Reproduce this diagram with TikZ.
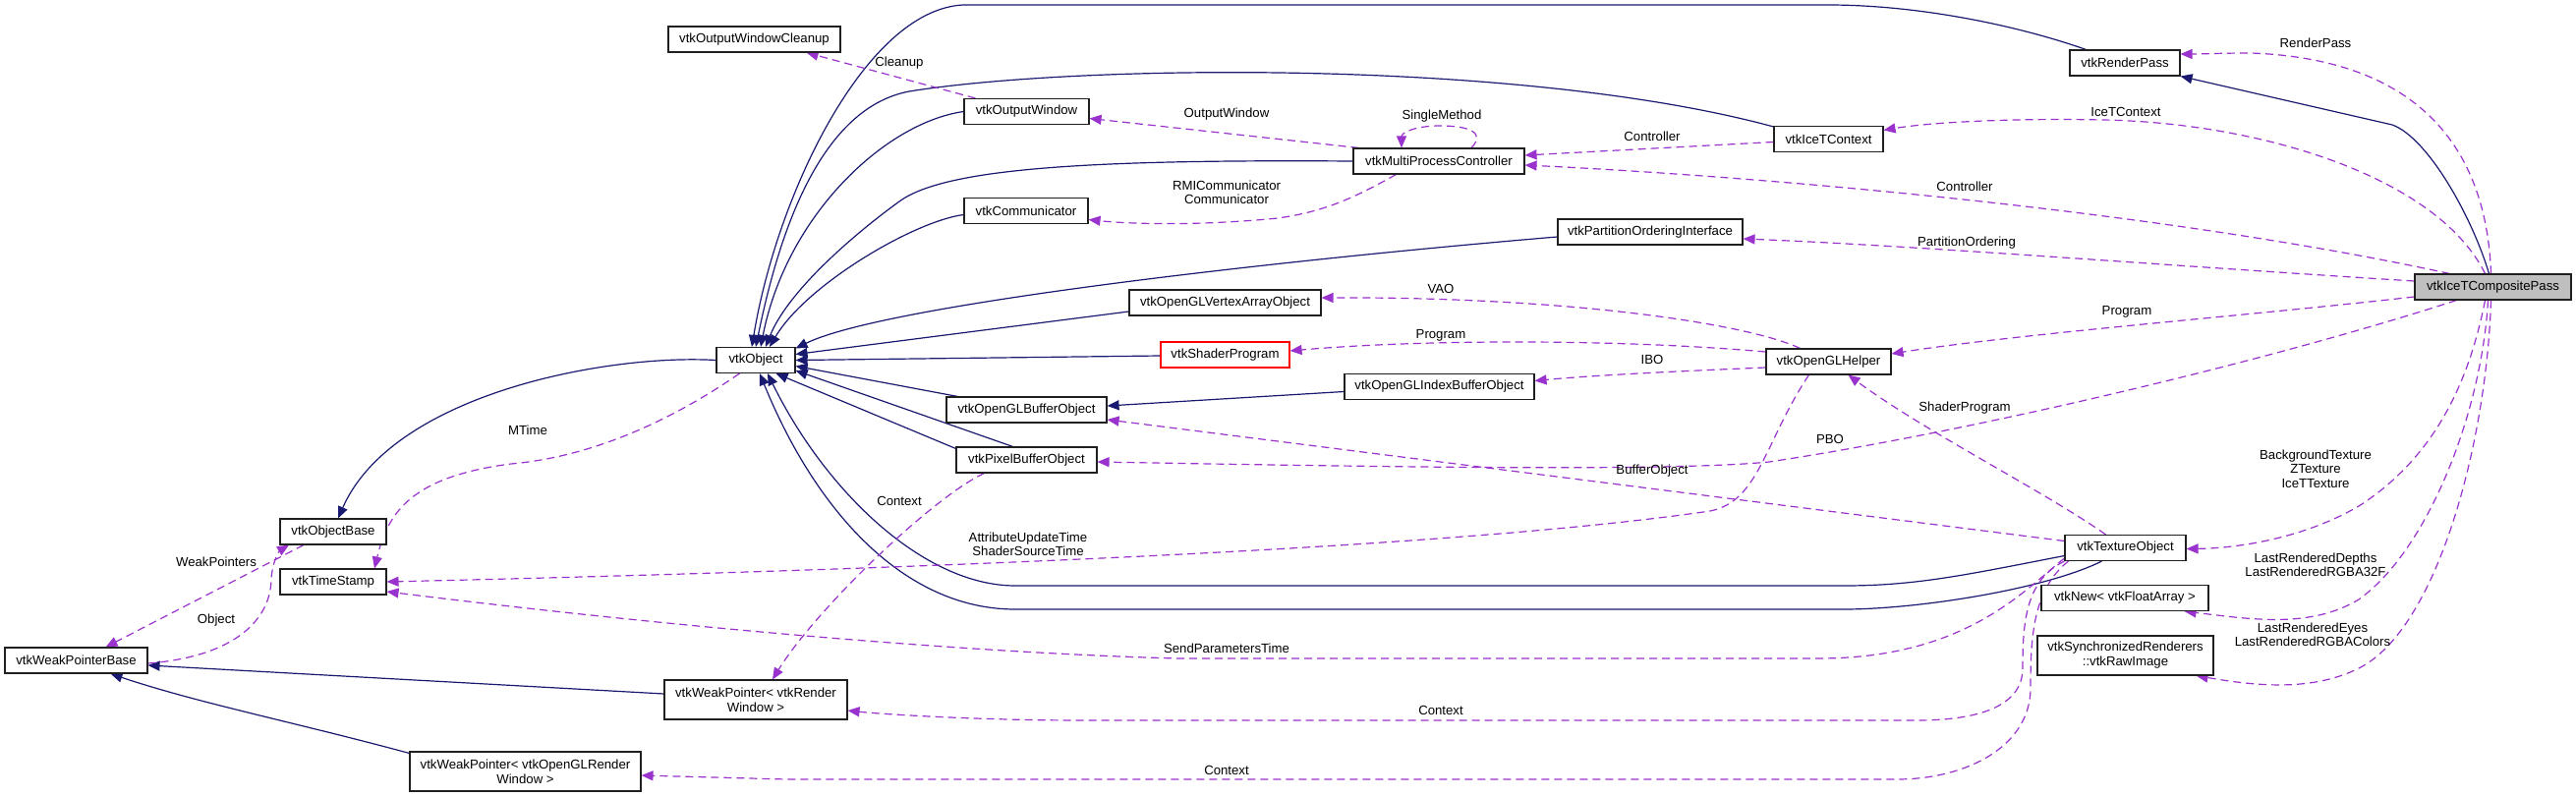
\documentclass[tikz,border=0pt]{standalone}
\usepackage{fontspec}
\setmainfont{Liberation Sans}
\usetikzlibrary{arrows.meta,calc}
\pgfdeclarelayer{bg}
\pgfsetlayers{bg,main}
\definecolor{inhcol}{HTML}{191970}
\definecolor{usecol}{HTML}{9A32CD}
\definecolor{compfill}{HTML}{BFBFBF}
\definecolor{boxline}{HTML}{202020}
\begin{document}
\begin{tikzpicture}[x=1pt,y=-1pt,
  cls/.style={draw=boxline, line width=1.1pt, fill=white, inner sep=0pt, minimum height=26pt, font=\fontsize{13.2}{15}\selectfont, align=center},
  cls2/.style={cls, minimum height=40pt},
  inh/.style={draw=inhcol, line width=1.2pt, -{Triangle[length=12pt,width=10pt]}},
  use/.style={draw=usecol, line width=1.2pt, dash pattern=on 8pt off 5pt, -{Triangle[length=12pt,width=10pt]}},
  lbl/.style={font=\fontsize{13.2}{14.5}\selectfont, align=center, inner sep=0pt, text=black},
]
\useasboundingbox (0,0) rectangle (2621,811);
% class nodes
\node[cls, minimum width=175pt] (cleanup) at (767.5,40) {vtkOutputWindowCleanup};
\node[cls, minimum width=127pt] (outwin) at (1044.5,113.5) {vtkOutputWindow};
\node[cls, minimum width=174pt] (mpc) at (1464,164) {vtkMultiProcessController};
\node[cls, minimum width=126pt] (comm) at (1044,214.5) {vtkCommunicator};
\node[cls, minimum width=112pt] (renderpass) at (2162,64) {vtkRenderPass};
\node[cls, minimum width=111pt] (icetctx) at (1860.5,141.5) {vtkIceTContext};
\node[cls, minimum width=188pt] (poi) at (1679,236) {vtkPartitionOrderingInterface};
\node[cls, minimum width=159pt, fill=compfill] (composite) at (2536.5,292) {vtkIceTCompositePass};
\node[cls, minimum width=195pt] (vao) at (1246.5,308) {vtkOpenGLVertexArrayObject};
\node[cls, minimum width=131pt, draw=red] (shader) at (1246.5,361) {vtkShaderProgram};
\node[cls, minimum width=127pt] (helper) at (1860.5,368) {vtkOpenGLHelper};
\node[cls, minimum width=80pt] (vtkobject) at (769,366.5) {vtkObject};
\node[cls, minimum width=193pt] (ibo) at (1464.5,393.5) {vtkOpenGLIndexBufferObject};
\node[cls, minimum width=163pt] (glbo) at (1044.5,417) {vtkOpenGLBufferObject};
\node[cls, minimum width=143pt] (pbo) at (1044.5,468) {vtkPixelBufferObject};
\node[cls, minimum width=108pt] (objbase) at (339,541) {vtkObjectBase};
\node[cls, minimum width=108pt] (timestamp) at (339,592) {vtkTimeStamp};
\node[cls, minimum width=145pt] (wpbase) at (77.5,672) {vtkWeakPointerBase};
\node[cls2, minimum width=186pt] (wprw) at (769,712) {vtkWeakPointer< vtkRender\\Window >};
\node[cls2, minimum width=235pt] (wpgl) at (534.5,785) {vtkWeakPointer< vtkOpenGLRender\\Window >};
\node[cls, minimum width=123pt] (texobj) at (2162.5,557.5) {vtkTextureObject};
\node[cls, minimum width=170pt] (vtknew) at (2162,608.5) {vtkNew< vtkFloatArray >};
\node[cls2, minimum width=179pt] (rawimg) at (2162.5,667) {vtkSynchronizedRenderers\\::vtkRawImage};
% labels
\node[lbl] (lCleanup) at (915,64) {Cleanup};
\node[lbl] (lOutWin) at (1248,116) {OutputWindow};
\node[lbl] (lSingle) at (1467,118) {SingleMethod};
\node[lbl] (lRMI) at (1248,196) {RMICommunicator\\Communicator};
\node[lbl] (lCtrl1) at (1681,139) {Controller};
\node[lbl] (lCtrl2) at (1999,190) {Controller};
\node[lbl] (lIceT) at (2163,114) {IceTContext};
\node[lbl] (lRP) at (2356,44) {RenderPass};
\node[lbl] (lPO) at (2001,247) {PartitionOrdering};
\node[lbl] (lProg1) at (2164,317) {Program};
\node[lbl] (lVAO) at (1466,294) {VAO};
\node[lbl] (lProg2) at (1466,341) {Program};
\node[lbl] (lIBO) at (1681,366) {IBO};
\node[lbl] (lSP) at (1999,415) {ShaderProgram};
\node[lbl] (lPBO) at (1862,447) {PBO};
\node[lbl] (lBO) at (1681,479) {BufferObject};
\node[lbl] (lAUT) at (1046,554) {AttributeUpdateTime\\ShaderSourceTime};
\node[lbl] (lCtx1) at (915,510) {Context};
\node[lbl] (lSPT) at (1248,660) {SendParametersTime};
\node[lbl] (lCtx2) at (1466,723) {Context};
\node[lbl] (lCtx3) at (1248,784) {Context};
\node[lbl] (lMTime) at (537,438) {MTime};
\node[lbl] (lWP) at (220,572) {WeakPointers};
\node[lbl] (lObj) at (220,631) {Object};
\node[lbl] (lBG) at (2356,477) {BackgroundTexture\\ZTexture\\IceTTexture};
\node[lbl] (lLRD) at (2356,575) {LastRenderedDepths\\LastRenderedRGBA32F};
\node[lbl] (lLRE) at (2353,646) {LastRenderedEyes\\LastRenderedRGBAColors};
\begin{pgfonlayer}{bg}
\fill[white] (0,0) rectangle (2621,811);
% inheritance
\draw[inh] (vtkobject.west) .. controls (620,360) and (400,400) .. ($(objbase.north)+(5,0)$);
\draw[inh] ($(wprw.west)+(0,-6)$) -- ($(wpbase.east)+(0,5)$);
\draw[inh] ($(wpgl.north west)+(0,2)$) .. controls (300,735) and (200,715) .. ($(wpbase.south)+(35,0)$);
\draw[inh] ($(renderpass.north west)+(17,0)$) .. controls (2050,25) and (1950,5) .. (1860,5) -- (980,5) .. controls (880,10) and (790,200) .. ($(vtkobject.north)+(-4,0)$);
\draw[inh] ($(icetctx.north west)+(0,1)$) .. controls (1550,60) and (1100,65) .. (925,93) .. controls (830,111) and (790,250) .. (vtkobject.north);
\draw[inh] (outwin.west) .. controls (900,125) and (800,220) .. ($(vtkobject.north)+(5,0)$);
\draw[inh] (mpc.west) .. controls (1100,162) and (960,172) .. (915,205) .. controls (860,245) and (800,300) .. ($(vtkobject.north)+(10,0)$);
\draw[inh] ($(comm.west)+(0,4)$) .. controls (930,225) and (820,290) .. ($(vtkobject.north)+(14,0)$);
\draw[inh] ($(poi.west)+(0,5)$) .. controls (1300,265) and (900,310) .. ($(vtkobject.east)+(0,-12)$);
\draw[inh] ($(vao.west)+(0,9)$) -- ($(vtkobject.east)+(0,-6)$);
\draw[inh] ($(shader.west)+(0,1)$) -- (vtkobject.east);
\draw[inh] ($(glbo.north west)+(12,0)$) -- ($(vtkobject.east)+(0,6)$);
\draw[inh] ($(pbo.north)+(-14,0)$) -- ($(vtkobject.south east)+(0,-3)$);
\draw[inh] ($(pbo.north west)+(0,2)$) -- ($(vtkobject.south east)+(-20,0)$);
\draw[inh] ($(texobj.west)+(0,8)$) .. controls (2000,585) and (1950,596) .. (1876,596) -- (1033,596) .. controls (940,596) and (840,500) .. ($(vtkobject.south)+(12,0)$);
\draw[inh] ($(texobj.south)+(-24,0)$) .. controls (2080,600) and (1950,620) .. (1876,620) -- (1033,620) .. controls (920,620) and (830,520) .. ($(vtkobject.south)+(4,0)$);
\draw[inh] ($(ibo.west)+(0,5)$) -- ($(glbo.east)+(0,-4)$);
\draw[inh] ($(composite.north)+(-4,0)$) .. controls (2515,220) and (2470,140) .. (2434,127) -- (renderpass.south east);
% usage
\draw[use] ($(outwin.north west)+(12,0)$) -- ($(cleanup.south east)+(-35,0)$);
\draw[use] ($(mpc.north west)+(6,0)$) -- ($(outwin.east)+(0,7)$);
\draw[use] ($(mpc.north)+(33,0)$) .. controls (1512,135) and (1495,128) .. (1465,128) .. controls (1440,128) and (1426,135) .. ($(mpc.north)+(-38,0)$);
\draw[use] ($(mpc.south west)+(44,0)$) .. controls (1380,200) and (1350,215) .. (1300,222) .. controls (1220,230) and (1150,228) .. ($(comm.east)+(0,9)$);
\draw[use] ($(icetctx.west)+(0,3)$) -- ($(mpc.east)+(0,-6)$);
\draw[use] ($(composite.north west)+(36,0)$) .. controls (2200,215) and (1800,180) .. ($(mpc.east)+(0,4)$);
\draw[use] ($(composite.north)+(-8,0)$) .. controls (2480,180) and (2300,125) .. (2140,122) .. controls (2040,120) and (1960,125) .. ($(icetctx.east)+(0,-9)$);
\draw[use] ($(composite.north)+(-2,0)$) .. controls (2530,150) and (2460,60) .. (2290,54) .. controls (2260,54) and (2240,55) .. ($(renderpass.east)+(0,-9)$);
\draw[use] ($(composite.west)+(0,-6)$) .. controls (2200,270) and (1950,250) .. ($(poi.east)+(0,7)$);
\draw[use] ($(composite.west)+(0,10)$) .. controls (2300,320) and (2050,340) .. ($(helper.east)+(0,-8)$);
\draw[use] ($(helper.north west)+(35,0)$) .. controls (1780,330) and (1600,302) .. ($(vao.east)+(0,-5)$);
\draw[use] ($(helper.west)+(0,-10)$) .. controls (1650,345) and (1450,345) .. ($(shader.east)+(0,-4)$);
\draw[use] ($(helper.west)+(0,6)$) .. controls (1700,378) and (1620,382) .. ($(ibo.east)+(0,-6)$);
\draw[use] ($(helper.south west)+(44,0)$) .. controls (1795,450) and (1790,510) .. (1740,520) .. controls (1500,555) and (1000,578) .. (timestamp.east);
\draw[use] ($(texobj.north)+(-20,0)$) .. controls (2080,500) and (1960,440) .. ($(helper.south)+(20,0)$);
\draw[use] ($(composite.south west)+(43,0)$) .. controls (2300,370) and (2000,440) .. (1800,470) .. controls (1700,480) and (1400,475) .. ($(pbo.east)+(0,2)$);
\draw[use] ($(texobj.west)+(0,-7)$) -- ($(glbo.east)+(0,10)$);
\draw[use] ($(texobj.south west)+(0,-3)$) .. controls (2060,600) and (2000,670) .. (1850,670) -- (1200,670) .. controls (1000,665) and (700,640) .. ($(timestamp.east)+(0,10)$);
\draw[use] (texobj.south west) .. controls (2062,590) and (2058,630) .. (2058,680) .. controls (2058,720) and (2010,733) .. (1950,733) -- (1100,733) .. controls (1000,733) and (900,727) .. ($(wprw.east)+(0,11)$);
\draw[use] ($(texobj.south west)+(4,0)$) .. controls (2068,600) and (2066,650) .. (2066,700) .. controls (2066,760) and (2000,793) .. (1930,793) -- (800,793) -- ($(wpgl.east)+(0,4)$);
\draw[use] ($(pbo.south west)+(29,0)$) .. controls (950,505) and (830,620) .. ($(wprw.north)+(17,0)$);
\draw[use] ($(vtkobject.south west)+(24,0)$) .. controls (680,430) and (600,465) .. (520,472) .. controls (420,485) and (395,520) .. ($(timestamp.north)+(42,0)$);
\draw[use] ($(objbase.south)+(-30,0)$) -- ($(wpbase.north)+(30,0)$);
\draw[use] ($(wpbase.east)+(0,3)$) .. controls (240,668) and (275,630) .. (276,590) .. controls (277,570) and (285,560) .. ($(objbase.south)+(-45,0)$);
\draw[use] ($(composite.south)+(-8,0)$) .. controls (2510,400) and (2470,470) .. (2400,515) .. controls (2340,550) and (2270,558) .. ($(texobj.east)+(0,1)$);
\draw[use] ($(composite.south)+(-5,0)$) .. controls (2525,420) and (2470,560) .. (2400,610) .. controls (2350,640) and (2290,630) .. ($(vtknew.south east)+(-25,0)$);
\draw[use] ($(composite.south)+(-2,0)$) .. controls (2530,450) and (2480,640) .. (2400,680) .. controls (2350,705) and (2290,697) .. ($(rawimg.south east)+(-18,0)$);
\end{pgfonlayer}
\end{tikzpicture}
\end{document}
